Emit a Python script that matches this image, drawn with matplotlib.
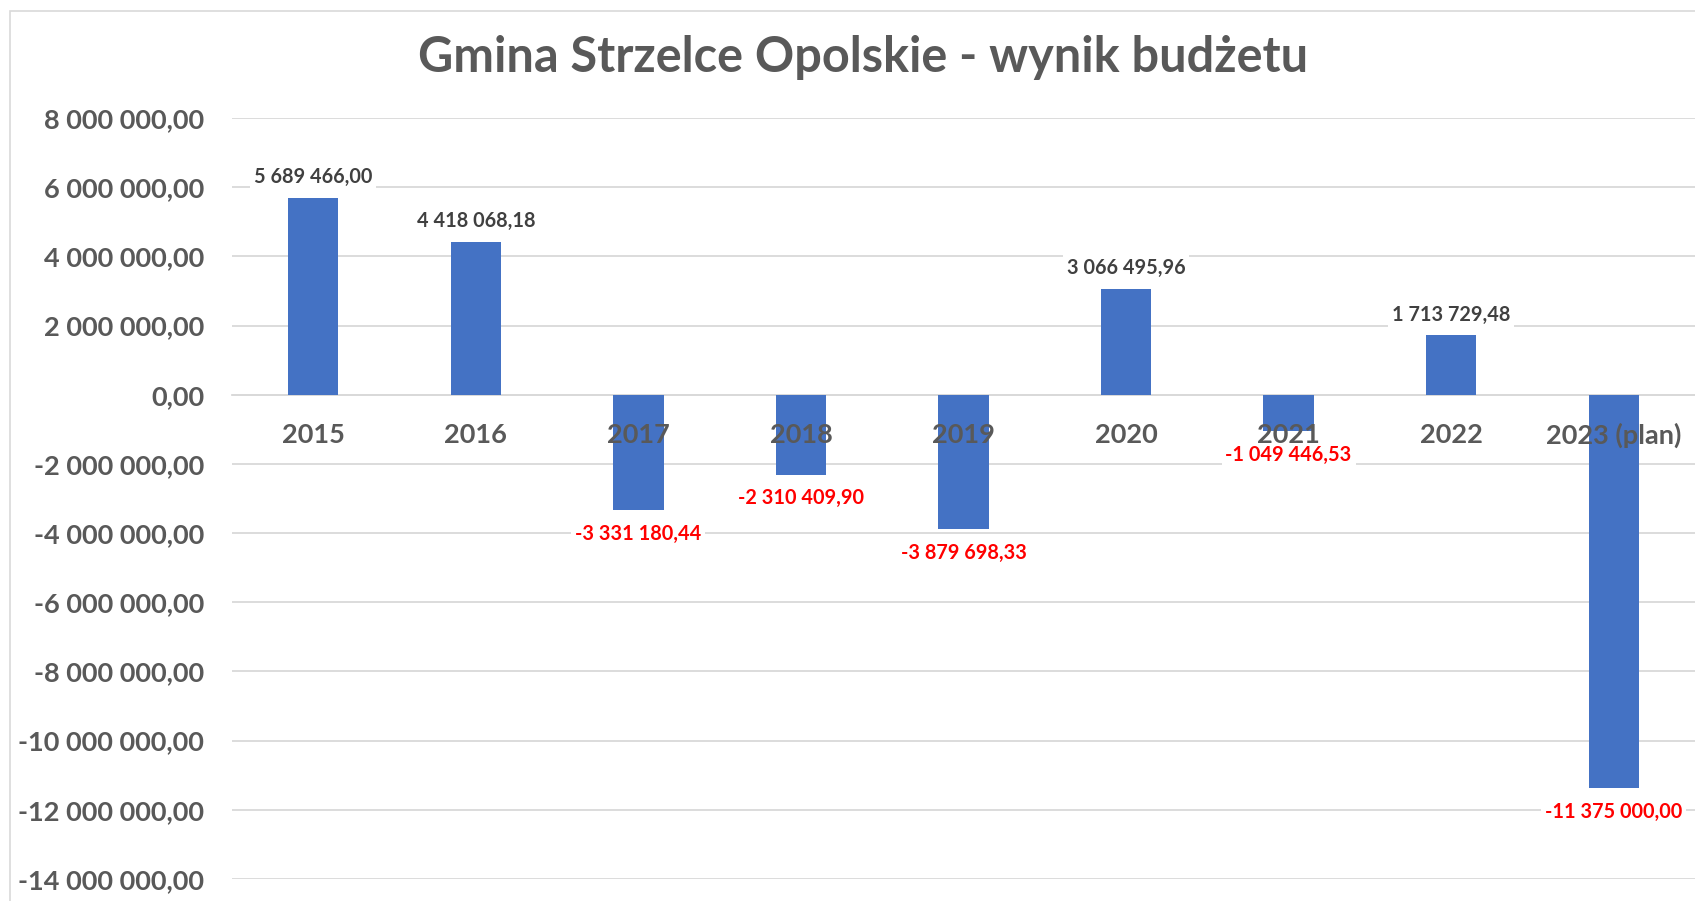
import matplotlib
matplotlib.use("Agg")
import matplotlib.pyplot as plt
from matplotlib.patches import Rectangle
from matplotlib.ticker import FuncFormatter

plt.rcParams["font.family"] = ["Lato", "DejaVu Sans"]

TITLE = "Gmina Strzelce Opolskie - wynik budżetu"
years = ["2015", "2016", "2017", "2018", "2019", "2020", "2021", "2022", "2023 (plan)"]
results = [5689466.00, 4418068.18, -3331180.44, -2310409.90, -3879698.33,
           3066495.96, -1049446.53, 1713729.48, -11375000.00]
y_ticks = list(range(-14_000_000, 8_000_001, 2_000_000))

BAR_COLOR = "#4472C4"
GRID_COLOR = "#D9D9D9"
TEXT_GRAY = "#595959"
POS_COLOR = "#404040"
NEG_COLOR = "#FF0000"


def pl_format(value, decimals=2):
    s = f"{abs(value):,.{decimals}f}".replace(",", " ").replace(".", ",")
    return ("-" if value < 0 else "") + s


W, H = 1695, 901
fig = plt.figure(figsize=(W / 100, H / 100), dpi=100)

# chart area border (cropped on right/bottom)
fig.patches.append(Rectangle((10 / W, -0.1), 1.2, 1 - 11 / H + 0.1, transform=fig.transFigure,
                             fill=False, edgecolor=GRID_COLOR, linewidth=1.2))

left, right, top, bottom = 232, 1695, 118, 879
ax = fig.add_axes([left / W, 1 - bottom / H, (right - left) / W, (bottom - top) / H])

x = range(len(years))
ax.bar(x, results, width=0.31, color=BAR_COLOR, zorder=2)

ax.set_xlim(-0.5, len(years) - 0.5)
ax.set_ylim(-14_000_000, 8_000_000)
ax.set_yticks(y_ticks)
ax.yaxis.set_major_formatter(FuncFormatter(lambda v, _: pl_format(v)))
ax.grid(axis="y", color=GRID_COLOR, linewidth=1.3, zorder=0)
ax.set_axisbelow(True)
# category labels sit on top of the bars and data labels, like in the Excel original
ax.xaxis.set_zorder(7)

for side in ["top", "right", "left"]:
    ax.spines[side].set_visible(False)
ax.spines["bottom"].set_position(("data", 0))
ax.spines["bottom"].set_color(GRID_COLOR)
ax.spines["bottom"].set_linewidth(1.3)
ax.spines["bottom"].set_zorder(0.5)

ax.set_xticks(list(x))
ax.set_xticklabels(years)
ax.tick_params(axis="x", length=0, pad=20, labelsize=19.5, labelcolor=TEXT_GRAY)
ax.tick_params(axis="y", length=0, pad=20, labelsize=19.5, labelcolor=TEXT_GRAY)
for lab in ax.get_xticklabels() + ax.get_yticklabels():
    lab.set_fontweight("bold")

for i, v in enumerate(results):
    offset = 15 if v >= 0 else -17
    ax.annotate(pl_format(v), xy=(i, v), xytext=(0, offset), textcoords="offset points",
                ha="center", va="center", fontsize=14.3, fontweight="bold",
                color=POS_COLOR if v >= 0 else NEG_COLOR, zorder=6,
                bbox=dict(boxstyle="square,pad=0.2", facecolor="white", edgecolor="none"))

fig.text(863 / W, 1 - 58 / H, TITLE, ha="center", va="center", fontsize=35,
         fontweight="bold", color=TEXT_GRAY)

fig.savefig("out.png", dpi=100, facecolor="white")
